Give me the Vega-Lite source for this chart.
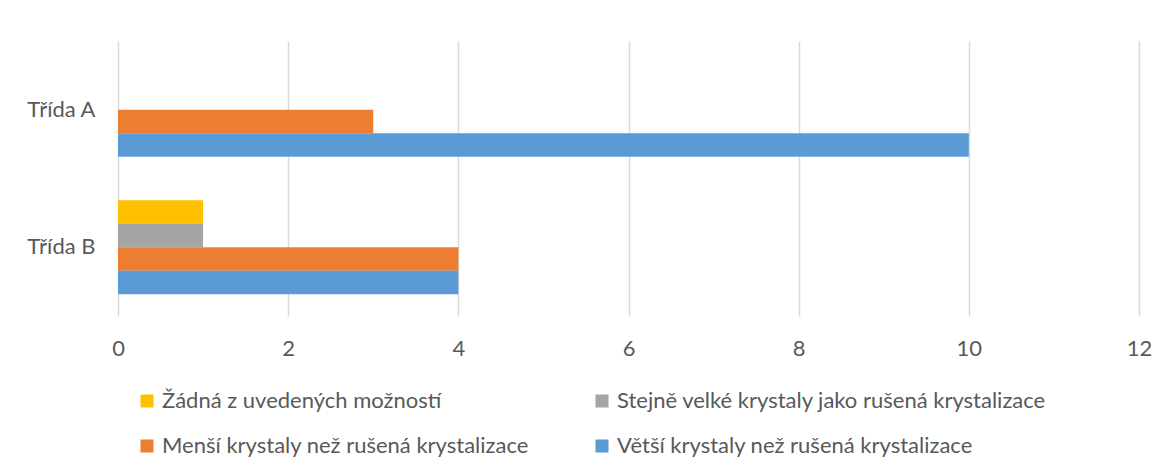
{
  "$schema": "https://vega.github.io/schema/vega-lite/v6.json",
  "width": 1021,
  "height": 275,
  "autosize": {"type": "none"},
  "padding": {"left": 118, "top": 41, "right": 31, "bottom": 157},
  "background": "white",
  "config": {
    "view": {"stroke": null},
    "font": "Lato",
    "axis": {"labelColor": "#595959", "labelFont": "Lato", "labelFontSize": 22},
    "legend": {"labelColor": "#595959", "labelFont": "Lato", "labelFontSize": 22}
  },
  "data": {
    "values": [
      {"trida": "Třída A", "odpoved": "Žádná z uvedených možností", "pocet": 0},
      {"trida": "Třída A", "odpoved": "Stejně velké krystaly jako rušená krystalizace", "pocet": 0},
      {"trida": "Třída A", "odpoved": "Menší krystaly než rušená krystalizace", "pocet": 3},
      {"trida": "Třída A", "odpoved": "Větší krystaly než rušená krystalizace", "pocet": 10},
      {"trida": "Třída B", "odpoved": "Žádná z uvedených možností", "pocet": 1},
      {"trida": "Třída B", "odpoved": "Stejně velké krystaly jako rušená krystalizace", "pocet": 1},
      {"trida": "Třída B", "odpoved": "Menší krystaly než rušená krystalizace", "pocet": 4},
      {"trida": "Třída B", "odpoved": "Větší krystaly než rušená krystalizace", "pocet": 4}
    ]
  },
  "mark": {"type": "bar"},
  "encoding": {
    "y": {
      "field": "trida",
      "type": "nominal",
      "sort": ["Třída A", "Třída B"],
      "scale": {"paddingInner": 0.316, "paddingOuter": 0.158},
      "axis": {"title": null, "domain": false, "ticks": false, "labelPadding": 23, "grid": false}
    },
    "yOffset": {
      "field": "odpoved",
      "type": "nominal",
      "sort": [
        "Žádná z uvedených možností",
        "Stejně velké krystaly jako rušená krystalizace",
        "Menší krystaly než rušená krystalizace",
        "Větší krystaly než rušená krystalizace"
      ],
      "scale": {"paddingInner": 0, "paddingOuter": 0}
    },
    "x": {
      "field": "pocet",
      "type": "quantitative",
      "scale": {"domain": [0, 12], "nice": false},
      "axis": {
        "title": null,
        "values": [0, 2, 4, 6, 8, 10, 12],
        "domain": false,
        "ticks": false,
        "grid": true,
        "gridColor": "#d9d9d9",
        "gridWidth": 1.5,
        "labelPadding": 32,
        "labelBaseline": "middle",
        "labelFlush": false
      }
    },
    "color": {
      "field": "odpoved",
      "type": "nominal",
      "sort": [
        "Žádná z uvedených možností",
        "Stejně velké krystaly jako rušená krystalizace",
        "Menší krystaly než rušená krystalizace",
        "Větší krystaly než rušená krystalizace"
      ],
      "scale": {
        "domain": [
          "Žádná z uvedených možností",
          "Stejně velké krystaly jako rušená krystalizace",
          "Menší krystaly než rušená krystalizace",
          "Větší krystaly než rušená krystalizace"
        ],
        "range": ["#FFC000", "#A5A5A5", "#ED7D31", "#5B9BD5"]
      },
      "legend": {
        "title": null,
        "orient": "none",
        "legendX": 18,
        "legendY": 349,
        "direction": "horizontal",
        "columns": 2,
        "symbolType": "square",
        "symbolSize": 169,
        "symbolStrokeWidth": 0,
        "labelOffset": 4,
        "columnPadding": 62,
        "rowPadding": 23,
        "labelLimit": 700
      }
    }
  }
}
